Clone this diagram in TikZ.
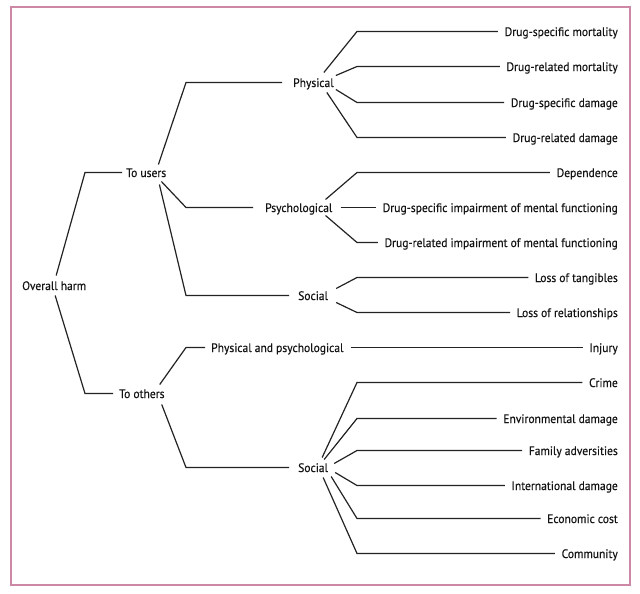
\documentclass[tikz,border=0pt]{standalone}
\usepackage{fontspec}
\setmainfont{PT Sans}[FakeStretch=0.94,FakeBold=0.3]
\definecolor{framepink}{RGB}{204,136,164}
\definecolor{linegray}{RGB}{35,35,35}
\tikzset{
  lbl/.style={inner xsep=0pt, inner ysep=0pt, text height=10pt, text depth=1pt,
              font=\fontsize{12.3pt}{14pt}\selectfont, text=black!92},
  leaf/.style={lbl, anchor=east},
  mid/.style={lbl, anchor=west},
  conn/.style={line width=1.2pt, draw=linegray},
  frame/.style={line width=1.3pt, draw=framepink},
}
\begin{document}
\begin{tikzpicture}[x=1pt,y=-1pt]
\fill[white] (0,0) rectangle (640,594);
\useasboundingbox (0,0) rectangle (640,594);
\draw[frame] (11,7) rectangle (630,585);

\begin{scope}[yshift=-0.5pt]
% elbow columns
\coordinate (cA) at (85,0);
\coordinate (cB) at (186,0);
\coordinate (cC) at (357,0);

% inner nodes
\node[mid] (root) at (22,285) {Overall harm};
\node[mid] (tu)   at (126,172) {To users};
\node[mid] (to)   at (119,393) {To others};
\node[mid] (phys) at (293,82)  {Physical};
\node[mid] (psy)  at (265,207) {Psychological};
\node[mid] (socu) at (298,295) {Social};
\node[mid] (pp)   at (211,347) {Physical and psychological};
\node[mid] (soco) at (298,467) {Social};

% leaves
\node[leaf] (l1)  at (618,31)  {Drug-specific mortality};
\node[leaf] (l2)  at (618,66)  {Drug-related mortality};
\node[leaf] (l3)  at (618,102) {Drug-specific damage};
\node[leaf] (l4)  at (618,137) {Drug-related damage};
\node[leaf] (l5)  at (618,172) {Dependence};
\node[leaf] (l6)  at (618,207) {Drug-specific impairment of mental functioning};
\node[leaf] (l7)  at (618,242) {Drug-related impairment of mental functioning};
\node[leaf] (l8)  at (618,277) {Loss of tangibles};
\node[leaf] (l9)  at (618,312) {Loss of relationships};
\node[leaf] (l10) at (618,347) {Injury};
\node[leaf] (l11) at (618,382) {Crime};
\node[leaf] (l12) at (618,418) {Environmental damage};
\node[leaf] (l13) at (618,450) {Family adversities};
\node[leaf] (l14) at (618,485) {International damage};
\node[leaf] (l15) at (618,518) {Economic cost};
\node[leaf] (l16) at (618,553) {Community};

% root branches
\draw[conn, shorten >=4pt] ([shift={(2,-10)}]root.center) -- (cA |- tu) -- (tu.west);
\draw[conn, shorten >=6pt] ([shift={(1,10)}]root.center) -- (cA |- to) -- (to.west);

% to users
\draw[conn, shorten >=11pt] ([shift={(-8,-8)}]tu.east) -- (cB |- phys) -- (phys.west);
\draw[conn, shorten >=12pt] ([shift={(-5,9)}]tu.east) -- (cB |- psy) -- (psy.west);
\draw[conn, shorten >=9pt] ([shift={(-7,12)}]tu.east) -- (cB |- socu) -- (socu.west);

% to others
\draw[conn, shorten >=6pt] ([shift={(-5,-9)}]to.east) -- (cB |- pp) -- (pp.west);
\draw[conn, shorten >=9pt] ([shift={(-3,11)}]to.east) -- (cB |- soco) -- (soco.west);

% physical
\draw[conn, shorten >=6.5pt] ([shift={(-10,-10)}]phys.east) -- (cC |- l1) -- (l1.west);
\draw[conn, shorten >=6.5pt] ([shift={(2,-7)}]phys.east) -- (cC |- l2) -- (l2.west);
\draw[conn, shorten >=6.5pt] ([shift={(2,7)}]phys.east) -- (cC |- l3) -- (l3.west);
\draw[conn, shorten >=6.5pt] ([shift={(-7,10)}]phys.east) -- (cC |- l4) -- (l4.west);

% psychological
\draw[conn, shorten >=6.5pt] ([shift={(-7,-8)}]psy.east) -- (cC |- l5) -- (l5.west);
\draw[conn, shorten >=6.5pt] ([xshift=8]psy.east) -- (l6.west);
\draw[conn, shorten >=6.5pt] ([shift={(-7,8)}]psy.east) -- (cC |- l7) -- (l7.west);

% social (users)
\draw[conn, shorten >=6.5pt] ([shift={(8,-7)}]socu.east) -- (cC |- l8) -- (l8.west);
\draw[conn, shorten >=6.5pt] ([shift={(8,7)}]socu.east) -- (cC |- l9) -- (l9.west);

% physical and psychological
\draw[conn, shorten >=6.5pt] ([xshift=7]pp.east) -- (l10.west);

% social (others)
\draw[conn, shorten >=6.5pt] ([shift={(-6,-10)}]soco.east) -- (cC |- l11) -- (l11.west);
\draw[conn, shorten >=6.5pt] ([shift={(-4,-8)}]soco.east) -- (cC |- l12) -- (l12.west);
\draw[conn, shorten >=6.5pt] ([shift={(6,-4)}]soco.east) -- (cC |- l13) -- (l13.west);
\draw[conn, shorten >=6.5pt] ([shift={(7,5)}]soco.east) -- (cC |- l14) -- (l14.west);
\draw[conn, shorten >=6.5pt] ([shift={(3,9)}]soco.east) -- (cC |- l15) -- (l15.west);
\draw[conn, shorten >=6.5pt] ([shift={(-5,10)}]soco.east) -- (cC |- l16) -- (l16.west);
\end{scope}
\end{tikzpicture}
\end{document}
